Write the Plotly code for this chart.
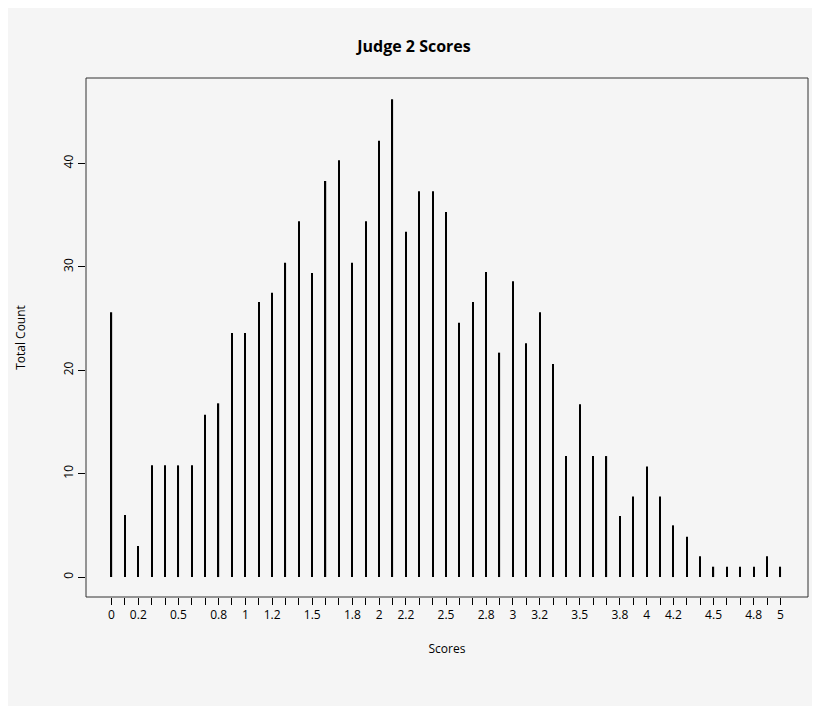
import plotly.graph_objects as go

scores = [round(i * 0.1, 1) for i in range(51)]
counts = [25.6, 6, 3, 10.8, 10.8, 10.8, 10.8, 15.7, 16.8, 23.6, 23.6, 26.6, 27.5,
          30.4, 34.4, 29.4, 38.3, 40.3, 30.4, 34.4, 42.2, 46.2, 33.4, 37.3, 37.3,
          35.3, 24.6, 26.6, 29.5, 21.7, 28.6, 22.6, 25.6, 20.6, 11.7, 16.7, 11.7,
          11.7, 5.9, 7.8, 10.7, 7.8, 5.0, 3.9, 2.0, 1.0, 1.0, 1.0, 1.0, 2.0, 1.0]
label_vals = {0, 0.2, 0.5, 0.8, 1, 1.2, 1.5, 1.8, 2, 2.2, 2.5, 2.8, 3, 3.2, 3.5, 3.8, 4, 4.2, 4.5, 4.8, 5}
tick_text = [(f"{s:g}" if s in label_vals else "") for s in scores]

fig = go.Figure(go.Bar(x=scores, y=counts, width=0.009, marker_color="black",
                       marker_line_width=0))
font = dict(family="Open Sans", color="black", size=12)
fig.update_layout(
    width=812, height=698, margin=dict(l=67, r=12, t=70, b=109),
    paper_bgcolor="#f5f5f5", plot_bgcolor="#f5f5f5", font=font, showlegend=False,
    title=dict(text="<b>Judge 2 Scores</b>", x=0.5, xanchor="center", y=0.945, yanchor="middle",
               font=dict(family="Open Sans", size=16, color="black")),
    xaxis=dict(range=[-0.191, 5.206], tickvals=scores, ticktext=tick_text,
               ticks="outside", ticklen=7, tickcolor="black", showgrid=False,
               zeroline=False, showline=False, tickfont=font,
               title=dict(text="Scores", standoff=22, font=font)),
    yaxis=dict(range=[-1.93, 48.26], tickvals=[0, 10, 20, 30, 40], ticks="outside",
               ticklen=7, tickcolor="black", showgrid=False, zeroline=False,
               showline=False, tickangle=-90, tickfont=font,
               title=dict(text="Total Count", standoff=32, font=font)),
    shapes=[dict(type="rect", xref="paper", yref="paper", x0=0, x1=1, y0=0, y1=1,
                 line=dict(color="#333", width=1))],
)
fig.write_html("out.html")
